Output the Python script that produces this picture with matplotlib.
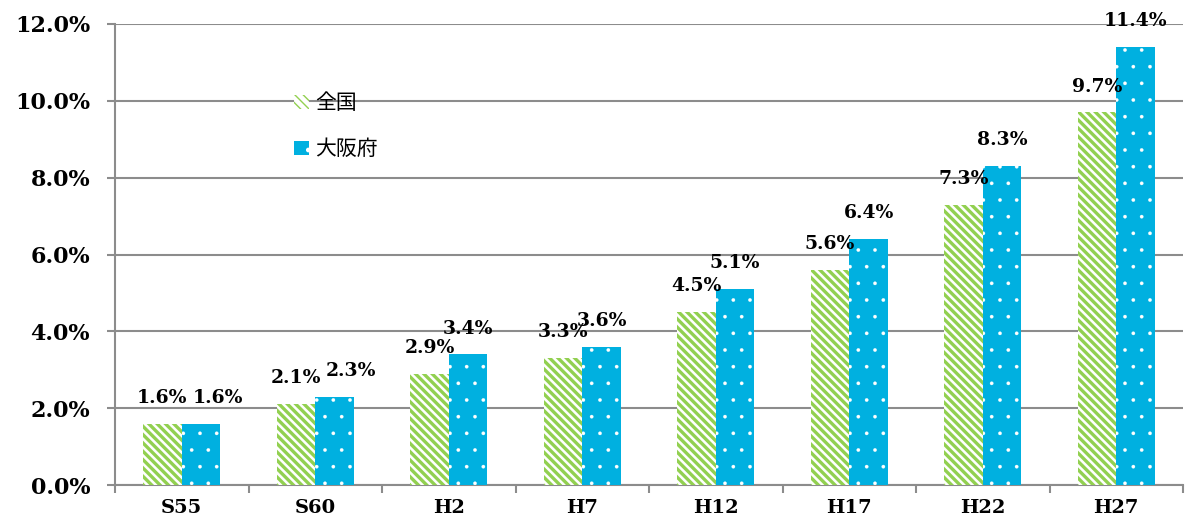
import numpy as np
import matplotlib as mpl
import matplotlib.pyplot as plt
from matplotlib.ticker import FuncFormatter

# data
categories = ["S55", "S60", "H2", "H7", "H12", "H17", "H22", "H27"]
zenkoku = [1.6, 2.1, 2.9, 3.3, 4.5, 5.6, 7.3, 9.7]
osaka = [1.6, 2.3, 3.4, 3.6, 5.1, 6.4, 8.3, 11.4]
series_names = ["全国", "大阪府"]

GREEN = "#92D050"
BLUE = "#00B0E0"
GRID = "#8C8C8C"
SERIF = ["DejaVu Serif"]
CJK = ["Noto Sans CJK JP", "DejaVu Sans"]

fig = plt.figure(figsize=(11.89, 5.16), dpi=100)
ax = fig.add_axes([115 / 1189, 1 - 485 / 516, 1068 / 1189, 461 / 516])

x = np.arange(len(categories))
width = 0.29

with mpl.rc_context({"hatch.linewidth": 2.4, "hatch.color": GREEN}):
    b1 = ax.bar(x - width / 2, zenkoku, width, facecolor="white", edgecolor=GREEN,
                hatch="\\\\\\\\", linewidth=0, label=series_names[0], zorder=3)
with mpl.rc_context({"hatch.linewidth": 0.2, "hatch.color": "white"}):
    b2 = ax.bar(x + width / 2, osaka, width, facecolor=BLUE, edgecolor="white",
                hatch=".", linewidth=0, label=series_names[1], zorder=3)
for p in b2:
    p._hatch_color = (1, 1, 1, 1)

# value labels (Excel nudges the right label when the two would collide)
for xi, v1, v2 in zip(x, zenkoku, osaka):
    shift = 12 if abs(v2 - v1) <= 0.2 else 0
    ax.annotate(f"{v1:.1f}%", (xi - width / 2, v1), xytext=(0, 15), textcoords="offset points",
                ha="center", va="baseline", fontsize=13.5, fontweight="bold", family=SERIF, zorder=5)
    ax.annotate(f"{v2:.1f}%", (xi + width / 2, v2), xytext=(shift, 15), textcoords="offset points",
                ha="center", va="baseline", fontsize=13.5, fontweight="bold", family=SERIF, zorder=5)

ax.set_xlim(-0.5, len(categories) - 0.5)
ax.set_ylim(0, 12)
ax.set_yticks(np.arange(0, 12.1, 2))
ax.yaxis.set_major_formatter(FuncFormatter(lambda v, _: f"{v:.1f}%"))
ax.grid(axis="y", color=GRID, linewidth=1.5, zorder=0)
ax.set_axisbelow(True)

ax.set_xticks(x)
ax.set_xticklabels(categories)
ax.set_xticks(np.arange(-0.5, len(categories), 1), minor=True)
ax.tick_params(axis="x", which="major", length=0, pad=10)
ax.tick_params(axis="x", which="minor", length=6, color=GRID, width=1.5)
ax.tick_params(axis="y", length=6, color=GRID, width=1.5, pad=12)
for lab in ax.get_xticklabels():
    lab.set_fontfamily(SERIF)
    lab.set_fontweight("bold")
    lab.set_fontsize(14)
for lab in ax.get_yticklabels():
    lab.set_fontfamily(SERIF)
    lab.set_fontweight("bold")
    lab.set_fontsize(16)

for s in ["top", "right"]:
    ax.spines[s].set_visible(False)
for s in ["left", "bottom"]:
    ax.spines[s].set_color(GRID)
    ax.spines[s].set_linewidth(1.5)

leg = ax.legend(loc="upper left", bbox_to_anchor=(0.168, 0.852), frameon=False,
                prop={"family": CJK, "size": 15}, handlelength=0.7, handleheight=0.7,
                handletextpad=0.3, labelspacing=1.15, borderpad=0, borderaxespad=0)

fig.savefig("out.png", dpi=100)
